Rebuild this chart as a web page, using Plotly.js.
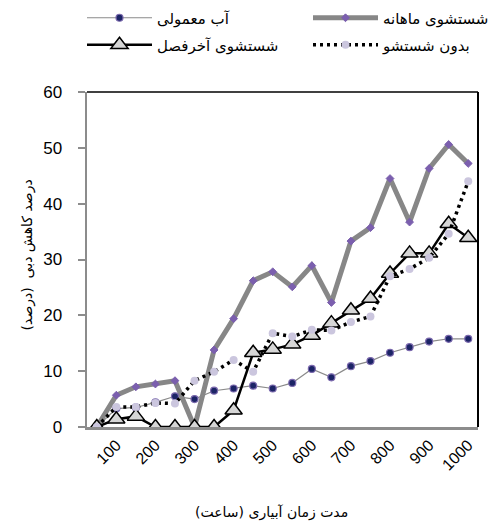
<!DOCTYPE html>
<html>
<head>
<meta charset="utf-8">
<script src="https://cdn.plot.ly/plotly-3.0.1.min.js"></script>
<style>
  html, body { margin: 0; padding: 0; background: #fff; }
  #chart { width: 501px; height: 525px; }
</style>
</head>
<body>
<div id="chart"></div>
<script>
// Irrigation duration (hours)
const hours = [50, 100, 150, 200, 250, 300, 350, 400, 450, 500, 550, 600, 650, 700, 750, 800, 850, 900, 950, 1000];
const tickValues = [100, 200, 300, 400, 500, 600, 700, 800, 900, 1000];
const tickLabels = ['100', '200', '300', '400', '500', '600', '700', '800', '900', '1000'];

// Percent flow reduction per treatment
const normalWater = [0, 3.3, 3.5, 4.4, 5.5, 5.0, 6.5, 6.9, 7.4, 6.9, 7.9, 10.4, 8.9, 10.9, 11.8, 13.3, 14.3, 15.3, 15.8, 15.8];
const monthlyFlush = [0, 5.7, 7.2, 7.7, 8.3, 0, 13.8, 19.4, 26.2, 27.8, 25.1, 28.9, 22.3, 33.3, 35.7, 44.5, 36.7, 46.3, 50.6, 47.2];
const endSeasonFlush = [0, 1.4, 1.9, 0, 0, 0, 0, 3.0, 13.3, 13.9, 14.8, 16.4, 18.6, 20.9, 23.0, 27.5, 31.1, 31.1, 36.4, 33.9];
const noFlush = [0, 3.6, 3.6, 4.3, 4.2, 8.3, 9.9, 12.0, 9.9, 16.8, 16.2, 17.4, 17.3, 18.8, 19.8, 27.0, 28.3, 30.3, 34.6, 44.0];

const names = ['آب معمولی', 'شستشوی ماهانه', 'شستشوی آخرفصل', 'بدون شستشو'];

const arabicFont = '"DejaVu Sans", "Noto Sans", sans-serif';

const traces = [
  {
    x: hours, y: monthlyFlush, name: names[1], legend: 'legend2',
    mode: 'lines+markers', type: 'scatter',
    line: {color: '#878787', width: 5},
    marker: {symbol: 'diamond', size: 6, color: '#7b5fae', line: {color: '#7b5fae', width: 1}}
  },
  {
    x: hours, y: normalWater, name: names[0], legend: 'legend',
    mode: 'lines+markers', type: 'scatter',
    line: {color: '#8a8a8a', width: 1.2},
    marker: {symbol: 'circle', size: 7, color: '#1c2466', line: {color: '#7a68ad', width: 1.2}}
  },
  {
    x: hours, y: endSeasonFlush, name: names[2], legend: 'legend3',
    mode: 'lines+markers', type: 'scatter',
    line: {color: '#000000', width: 2.5},
    marker: {symbol: 'triangle-up', size: 15, color: '#d6d6d6', line: {color: '#000000', width: 1.5}}
  },
  {
    x: hours, y: noFlush, name: names[3], legend: 'legend4',
    mode: 'lines+markers', type: 'scatter',
    line: {color: '#000000', width: 3.5, dash: '3px,4px'},
    marker: {symbol: 'circle', size: 8, color: '#cbc6de', line: {color: '#cbc6de', width: 0}}
  }
];

function legendAt(px, py) {
  return {
    orientation: 'h', xref: 'container', yref: 'container',
    x: px / 501, xanchor: 'left', y: 1 - py / 525, yanchor: 'middle',
    itemwidth: 65, itemsizing: 'trace',
    font: {family: arabicFont, size: 15, color: '#000'},
    bgcolor: 'rgba(0,0,0,0)', borderwidth: 0
  };
}

const layout = {
  width: 501, height: 525,
  margin: {l: 87, r: 23, t: 92, b: 98},
  paper_bgcolor: '#ffffff', plot_bgcolor: '#ffffff',
  showlegend: true,
  legend: legendAt(82, 18),
  legend2: legendAt(308, 18),
  legend3: legendAt(82, 45),
  legend4: legendAt(308, 45),
  xaxis: {
    type: 'linear', range: [25, 1025],
    tickmode: 'array', tickvals: tickValues, ticktext: tickLabels,
    tickangle: -45, ticks: '',
    showgrid: false, zeroline: false,
    showline: true, linecolor: '#8c8c8c', linewidth: 2.5,
    tickfont: {family: '"Liberation Sans", Arial, sans-serif', size: 16, color: '#000'}
  },
  yaxis: {
    range: [0, 60], tickmode: 'array', tickvals: [0, 10, 20, 30, 40, 50, 60],
    ticks: 'outside', ticklen: 7, tickwidth: 2, tickcolor: '#8c8c8c',
    ticklabelstandoff: 12,
    showgrid: false, zeroline: false,
    showline: true, linecolor: '#8c8c8c', linewidth: 2.5,
    tickfont: {family: '"Liberation Sans Narrow", "Liberation Sans", Arial, sans-serif', size: 17, color: '#000'}
  },
  shapes: [
    {type: 'line', xref: 'paper', yref: 'paper', x0: 0, x1: 1, y0: 1, y1: 1, line: {color: '#000', width: 1.5}},
    {type: 'line', xref: 'paper', yref: 'paper', x0: 1, x1: 1, y0: 0, y1: 1, line: {color: '#000', width: 2}}
  ],
  annotations: [
    {text: 'مدت زمان آبیاری (ساعت)', xref: 'paper', yref: 'paper', x: 0.473, y: -0.254,
     xanchor: 'center', yanchor: 'middle', showarrow: false,
     font: {family: arabicFont, size: 14, color: '#000'}},
    {text: 'درصد کاهش دبی  (درصد)', xref: 'paper', yref: 'paper', x: -0.151, y: 0.515,
     xanchor: 'center', yanchor: 'middle', showarrow: false, textangle: -90,
     font: {family: arabicFont, size: 14, color: '#000'}}
  ]
};

Plotly.newPlot('chart', traces, layout, {displayModeBar: false, staticPlot: true});
</script>
</body>
</html>
